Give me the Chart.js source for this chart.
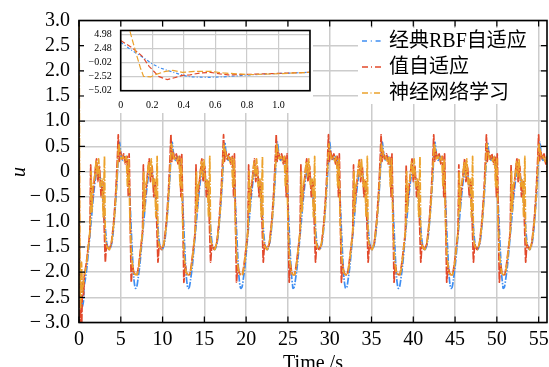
<!DOCTYPE html>
<html>
<head>
<meta charset="utf-8">
<script src="https://cdn.jsdelivr.net/npm/chart.js@4.4.0/dist/chart.umd.min.js"></script>
<style>
  html, body { margin: 0; padding: 0; background: #fff; }
  #wrap { position: relative; width: 549px; height: 367px; overflow: hidden; }
  #main { position: absolute; left: 0; top: 0; }
  #inset { position: absolute; left: 84px; top: 27px; background: #fff; }
</style>
</head>
<body>
<div id="wrap">
  <canvas id="main" width="549" height="367"></canvas>
  <canvas id="inset" width="229" height="86"></canvas>
</div>
<script>
"use strict";

// colours / fonts
const C = {
  blue:   "#3f8ef2",
  red:    "#e2492b",
  orange: "#eca22c",
  grid:   "#cccccc",
  ink:    "#000000",
};
const SERIF = "'Liberation Serif', 'Noto Sans CJK SC', serif";

// legend labels (blue, red, orange)
const seriesNames = ["经典RBF自适应", "值自适应", "神经网络学习"];

// main axes
const xTicks = [0, 5, 10, 15, 20, 25, 30, 35, 40, 45, 50, 55];
const yTicks = [-3, -2.5, -2, -1.5, -1, -0.5, 0, 0.5, 1, 1.5, 2, 2.5, 3];

// inset axes
const insetXTicks  = [0, 0.2, 0.4, 0.6, 0.8, 1.0, 1.2];
const insetXLabels = ["0", "0.2", "0.4", "0.6", "0.8", "1.0", ""];
const insetYTicks  = [-5.02, -2.52, -0.02, 2.48, 4.98];

// time of each big minimum of the periodic response (s)
const cycleStarts = [0.45, 6.75, 13.05, 19.35, 25.6, 31.9, 38.2, 44.5, 50.75];

// start-up part of each curve (t < 0.6 s)
const blueStartT   = [0, 0.1, 0.25, 0.4, 0.55];
const blueStartV   = [-1.3, -2.0, -2.5, -2.68, -2.55];
const redStartT    = [0, 0.05, 0.12, 0.22, 0.32, 0.42, 0.55];
const redStartV    = [1.6, -1.2, -3.3, -2.5, -3.1, -2.2, -2.45];
const orangeStartT = [0, 0.06, 0.12, 0.2, 0.3, 0.42, 0.55];
const orangeStartV = [3.4, 0.4, -2.3, -2.7, -1.8, -2.4, -2.15];

// one period of each curve: seconds after the big minimum, value of u
const bluePhase = [0, 0.15, 0.3, 0.5, 0.7, 1.0, 1.3, 1.6, 1.8, 2.0, 2.3, 2.6, 2.9, 3.2, 3.5,
                   3.8, 4.1, 4.3, 4.4, 4.6, 4.8, 5.0, 5.2, 5.4, 5.6, 5.8, 6.0, 6.1, 6.2];
const blueCycle = [-2.32, -2.3, -2.15, -1.9, -1.55, -1.0, -0.45, -0.05, 0.0, -0.05, -0.35, -0.9, -1.45, -1.55, -1.4,
                   -0.9, -0.2, 0.45, 0.58, 0.3, 0.22, 0.3, 0.25, 0.1, -0.4, -1.15, -1.85, -2.1, -2.25];

const redPhase = [0, 0.2, 0.4, 0.65, 0.85, 0.95, 1.05, 1.25, 1.45, 1.65, 1.8, 2.0, 2.2, 2.4,
                  2.55, 2.7, 2.85, 3.1, 3.4, 3.7, 3.95, 4.15, 4.25, 4.35, 4.5, 4.7, 4.9, 5.1,
                  5.3, 5.45, 5.55, 5.7, 5.8, 5.95, 6.1];
const redCycle = [-2.05, -2.05, -1.85, -1.5, -1.2, 0.13, -0.7, -0.4, -0.05, 0.25, -0.2, 0.1, -0.5, -0.2,
                  -1.0, -1.8, -1.45, -1.55, -1.45, -1.0, -0.4, 0.3, 0.73, 0.2, 0.4, 0.25, 0.35, 0.15,
                  0.3, -0.5, 0.35, -1.2, -2.2, -1.85, -2.0];

const orangePhase = [0, 0.2, 0.4, 0.7, 0.9, 1.0, 1.1, 1.2, 1.4, 1.6, 1.75, 1.9, 2.1, 2.3,
                     2.45, 2.6, 2.7, 2.9, 3.2, 3.5, 3.8, 4.0, 4.2, 4.3, 4.45, 4.6, 4.8, 5.0,
                     5.2, 5.35, 5.5, 5.65, 5.85, 6.05];
const orangeCycle = [-2.05, -2.05, -1.9, -1.45, -1.1, 0.0, -0.8, -0.3, -0.15, 0.2, -0.1, 0.25, -0.3, -0.15,
                     -0.9, 0.3, -1.3, -1.5, -1.55, -1.35, -0.9, -0.4, 0.2, 0.55, 0.4, 0.25, 0.3, 0.2,
                     0.3, -0.3, 0.25, -1.0, -1.7, -2.0];

// inset: first 1.2 s
const insetBlueT   = [0, 0.063, 0.147, 0.2, 0.25, 0.315, 0.38, 0.44, 0.55, 0.65, 0.75, 0.85, 0.95, 1.05, 1.2];
const insetBlueV   = [3.6, 2.3, 0.8, -0.25, -0.97, -1.57, -2.16, -2.55, -2.65, -2.55, -2.35, -2.15, -2.0, -1.9, -1.75];
const insetRedT    = [0, 0.074, 0.137, 0.18, 0.2, 0.24, 0.295, 0.336, 0.39, 0.44, 0.505, 0.57, 0.63, 0.68, 0.757, 0.925, 1.2];
const insetRedV    = [3.9, 2.6, 1.1, -0.68, -1.27, -2.47, -3.05, -2.75, -2.29, -2.2, -1.86, -1.75, -2.04, -2.2, -2.16, -2.0, -1.75];
const insetOrangeT = [0, 0.05, 0.07, 0.1, 0.125, 0.145, 0.19, 0.22, 0.284, 0.33, 0.39, 0.48, 0.57, 0.65, 0.82, 1.0, 1.2];
const insetOrangeV = [8, 6.5, 4.4, 1.4, -0.97, -2.47, -2.57, -2.16, -1.57, -1.4, -1.75, -1.57, -1.57, -1.86, -2.16, -2.0, -1.75];

// legend samples
const DASH = {
  blue:   [5, 3.8, 1, 3.8],
  red:    [6, 3, 1, 3],
  orange: [6, 2.5, 1, 2.5],
};
// main plot: the dense curves read almost solid
const PLOT_DASH = {
  blue:   [7, 1.5, 1.5, 1.5],
  red:    [8, 1.5],
  orange: [8, 1.5, 1.5, 1.5],
};

// start-up points, then the measured period placed at every minimum
function buildSeries(startT, startV, phase, values) {
  const pts = startT.map((t, i) => ({ x: t, y: startV[i] }));
  const tEnd = startT[startT.length - 1];
  cycleStarts.forEach((s) => {
    phase.forEach((p, i) => {
      const t = s + p;
      if (t > tEnd) pts.push({ x: +t.toFixed(3), y: values[i] });
    });
  });
  return pts;
}

function pairs(ts, vs) {
  return ts.map((t, i) => ({ x: t, y: vs[i] }));
}

function fmtMain(v) {
  if (v === 0) return "0";
  return v < 0 ? "\u2212\u2009" + Math.abs(v).toFixed(1) : v.toFixed(1);
}

function fmtInset(v) {
  return v < 0 ? "\u2212" + Math.abs(v).toFixed(2) : v.toFixed(2);
}

function line(label, data, color, dash, order, width, tension) {
  return {
    label, data, order,
    borderColor: color,
    borderWidth: width,
    borderDash: dash,
    pointRadius: 0,
    tension,
    fill: false,
  };
}

// frame and inward tick marks on all four sides, plus axis titles
const framePlugin = {
  id: "frame",
  afterDraw(chart) {
    const { ctx, chartArea: a, scales } = chart;
    ctx.save();
    ctx.strokeStyle = C.ink;
    ctx.lineWidth = 1.2;
    ctx.beginPath();
    xTicks.forEach((v) => {
      const x = scales.x.getPixelForValue(v);
      ctx.moveTo(x, a.bottom); ctx.lineTo(x, a.bottom - 6);
      ctx.moveTo(x, a.top);    ctx.lineTo(x, a.top + 6);
    });
    yTicks.forEach((v) => {
      const y = scales.y.getPixelForValue(v);
      ctx.moveTo(a.left, y);  ctx.lineTo(a.left + 6, y);
      ctx.moveTo(a.right, y); ctx.lineTo(a.right - 6, y);
    });
    ctx.stroke();
    ctx.lineWidth = 1.6;
    ctx.strokeRect(a.left, a.top, a.right - a.left, a.bottom - a.top);

    ctx.fillStyle = C.ink;
    ctx.font = "20px " + SERIF;
    ctx.textAlign = "center";
    ctx.textBaseline = "alphabetic";
    ctx.fillText("Time /s", (a.left + a.right) / 2, 369);
    ctx.translate(20, 172);
    ctx.rotate(-Math.PI / 2);
    ctx.font = "italic 20px " + SERIF;
    ctx.textBaseline = "middle";
    ctx.fillText("u", 0, 0);
    ctx.restore();
  },
};

// legend in a white box at the upper right
const legendPlugin = {
  id: "boxLegend",
  afterDatasetsDraw(chart) {
    const { ctx } = chart;
    const colors = [C.blue, C.red, C.orange];
    const dashes = [DASH.blue, DASH.red, DASH.orange];
    const rows = [41, 67, 93];
    ctx.save();
    ctx.fillStyle = "#fff";
    ctx.fillRect(358, 28, 180, 76);
    seriesNames.forEach((name, i) => {
      ctx.strokeStyle = colors[i];
      ctx.lineWidth = 1.6;
      ctx.setLineDash(dashes[i]);
      ctx.beginPath();
      ctx.moveTo(362, rows[i]);
      ctx.lineTo(382, rows[i]);
      ctx.stroke();
      ctx.setLineDash([]);
      ctx.fillStyle = C.ink;
      ctx.font = "20px " + SERIF;
      ctx.textAlign = "left";
      ctx.textBaseline = "middle";
      ctx.fillText(name, 389, rows[i] + 1);
    });
    ctx.restore();
  },
};

new Chart(document.getElementById("main"), {
  type: "line",
  data: {
    datasets: [
      line(seriesNames[0], buildSeries(blueStartT, blueStartV, bluePhase, blueCycle), C.blue, PLOT_DASH.blue, 2, 1.7, 0.3),
      line(seriesNames[1], buildSeries(redStartT, redStartV, redPhase, redCycle), C.red, PLOT_DASH.red, 1, 1.7, 0.1),
      line(seriesNames[2], buildSeries(orangeStartT, orangeStartV, orangePhase, orangeCycle), C.orange, PLOT_DASH.orange, 0, 1.7, 0.1),
    ],
  },
  options: {
    responsive: false,
    animation: false,
    events: [],
    layout: { padding: { left: 0, right: 2, top: 20.5, bottom: 0 } },
    plugins: { legend: { display: false }, tooltip: { enabled: false } },
    scales: {
      x: {
        type: "linear",
        min: 0,
        max: 56,
        afterBuildTicks: (s) => { s.ticks = xTicks.map((v) => ({ value: v })); },
        afterFit: (s) => { s.height = 44.5; s.paddingLeft = 0; s.paddingRight = 0; },
        grid: { color: C.grid, lineWidth: 1.5, drawTicks: false },
        border: { display: false },
        ticks: {
          padding: 5,
          color: C.ink,
          font: { family: SERIF, size: 20 },
          maxRotation: 0,
          autoSkip: false,
          callback: (v) => String(v),
        },
      },
      y: {
        min: -3,
        max: 3,
        afterBuildTicks: (s) => { s.ticks = yTicks.map((v) => ({ value: v })); },
        afterFit: (s) => { s.width = 79; s.paddingTop = 0; s.paddingBottom = 0; },
        grid: { color: C.grid, lineWidth: 1.5, drawTicks: false },
        border: { display: false },
        ticks: {
          padding: 9,
          color: C.ink,
          font: { family: SERIF, size: 20 },
          autoSkip: false,
          callback: (v) => fmtMain(v),
        },
      },
    },
  },
  plugins: [legendPlugin, framePlugin],
});

// ---------------------------------------------------------------------------
// inset: zoom on the first 1.2 s
// ---------------------------------------------------------------------------
const insetFrame = {
  id: "insetFrame",
  afterDraw(chart) {
    const { ctx, chartArea: a } = chart;
    ctx.save();
    ctx.strokeStyle = C.ink;
    ctx.lineWidth = 1.6;
    ctx.strokeRect(a.left, a.top, a.right - a.left, a.bottom - a.top);
    ctx.restore();
  },
};

new Chart(document.getElementById("inset"), {
  type: "line",
  data: {
    datasets: [
      line(seriesNames[0], pairs(insetBlueT, insetBlueV), C.blue, [3, 2, 1, 2], 2, 1.2, 0),
      line(seriesNames[1], pairs(insetRedT, insetRedV), C.red, [5, 2.5], 1, 1.2, 0),
      line(seriesNames[2], pairs(insetOrangeT, insetOrangeV), C.orange, [6, 2.5], 0, 1.2, 0),
    ],
  },
  options: {
    responsive: false,
    animation: false,
    events: [],
    layout: { padding: { left: 0, right: 3, top: 3.5, bottom: 0 } },
    plugins: { legend: { display: false }, tooltip: { enabled: false } },
    scales: {
      x: {
        type: "linear",
        min: 0,
        max: 1.2,
        afterBuildTicks: (s) => { s.ticks = insetXTicks.map((v) => ({ value: v })); },
        afterFit: (s) => { s.height = 22.3; s.paddingLeft = 0; s.paddingRight = 0; },
        grid: { color: C.grid, lineWidth: 1.2, drawTicks: false },
        border: { display: false },
        ticks: {
          padding: 9,
          color: C.ink,
          font: { family: SERIF, size: 10 },
          maxRotation: 0,
          autoSkip: false,
          callback: (v, i) => insetXLabels[i],
        },
      },
      y: {
        min: -5.02,
        max: 5.7,
        afterBuildTicks: (s) => { s.ticks = insetYTicks.map((v) => ({ value: v })); },
        afterFit: (s) => { s.width = 36.7; s.paddingTop = 0; s.paddingBottom = 0; },
        grid: { color: C.grid, lineWidth: 1.2, drawTicks: false },
        border: { display: false },
        ticks: {
          padding: 9,
          color: C.ink,
          font: { family: SERIF, size: 10 },
          autoSkip: false,
          callback: (v) => fmtInset(v),
        },
      },
    },
  },
  plugins: [insetFrame],
});
</script>
</body>
</html>
